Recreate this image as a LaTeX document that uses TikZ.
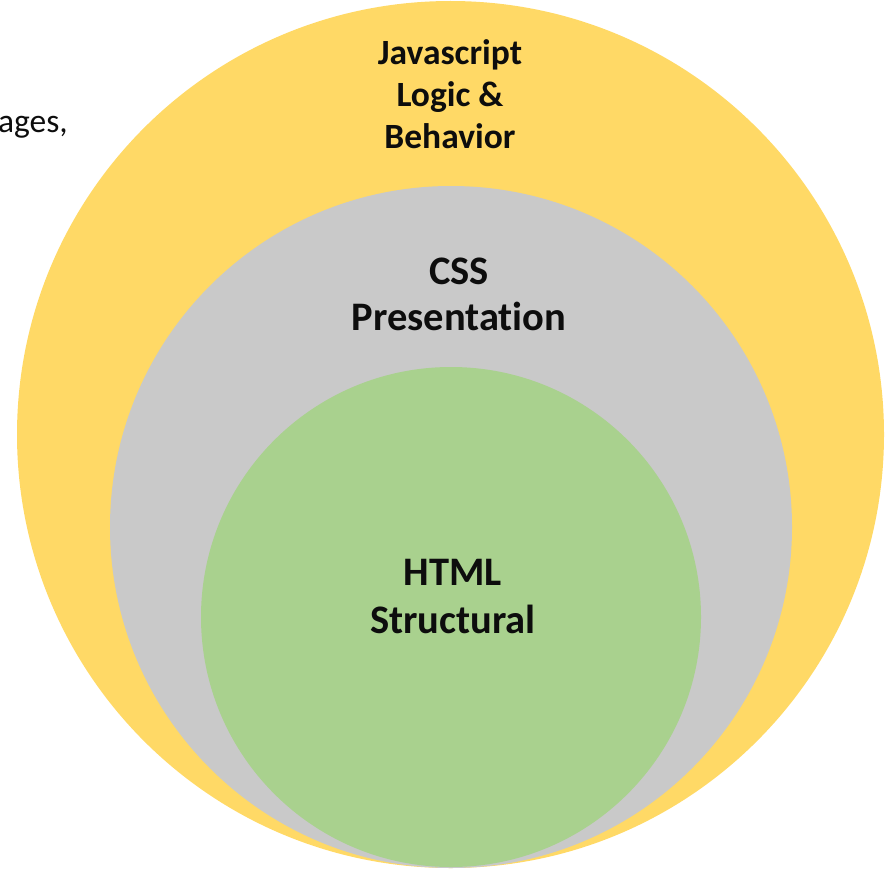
\documentclass[tikz,border=0pt]{standalone}
\usepackage{fontspec}
\setmainfont{Carlito}[Ligatures=CommonOff]
\definecolor{jsgold}{HTML}{FFD966}
\definecolor{cssgray}{HTML}{C9C9C9}
\definecolor{htmlgreen}{HTML}{A9D18E}
\definecolor{inktext}{HTML}{0D0D0D}
\tikzset{
  layer/.style={circle, inner sep=0pt, minimum size=#1},
  lbl/.style={align=center, text=inktext, font=\bfseries},
}
\begin{document}
\begin{tikzpicture}[x=1pt, y=-1pt]
  \useasboundingbox (0,0) rectangle (890,869);
  \clip (0,0) rectangle (890,869);
  % nested layers of a web page
  \node[layer=867pt, fill=jsgold] (js) at (450.5,434.5) {};
  \node[layer=682pt, fill=cssgray] (css) at (451,527) {};
  \node[layer=500pt, fill=htmlgreen] (html) at (451,617) {};
  % layer captions
  \node[lbl, font=\bfseries\fontsize{35.5}{42}\selectfont] (jstxt) at (450,94) {Javascript\\Logic \&\\Behavior};
  \node[lbl, font=\bfseries\fontsize{40.5}{46}\selectfont] (csstxt) at (459,294) {CSS\\Presentation};
  \node[lbl, font=\bfseries\fontsize{40.5}{48}\selectfont] (htmltxt) at (453,597) {HTML\\Structural};
  % fragment of running text at the left margin
  \node[anchor=base east, text=inktext, font=\fontsize{33.5}{36}\selectfont, inner sep=0pt] (side) at (68,133) {ages,};
\end{tikzpicture}
\end{document}
